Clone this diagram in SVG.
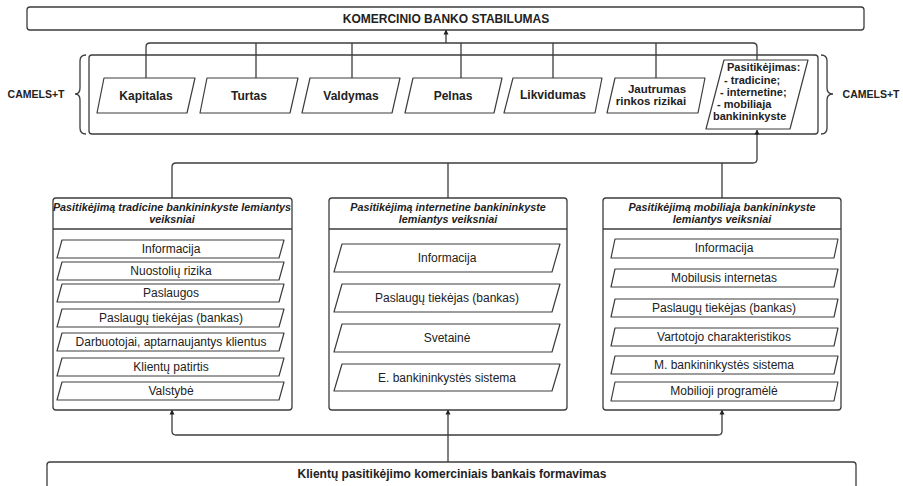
<svg xmlns="http://www.w3.org/2000/svg" width="903" height="486" viewBox="0 0 903 486">
  <style>
    .box { fill: #ffffff; stroke: #3c3c3c; stroke-width: 1.3; }
    .para { fill: #ffffff; stroke: #3c3c3c; stroke-width: 1.2; stroke-linejoin: round; }
    .line { fill: none; stroke: #3c3c3c; stroke-width: 1.3; }
    .bold { font-family: "Liberation Sans", Arial, sans-serif; font-weight: bold; fill: #222; }
    .title { font-family: "Liberation Sans", Arial, sans-serif; font-weight: bold; font-style: italic; font-size: 10.8px; fill: #222; }
    .item { font-family: "Liberation Sans", Arial, sans-serif; font-size: 12px; fill: #222; }
    text { text-anchor: middle; }
  </style>
  <defs>
    <marker id="arrow" viewBox="0 0 10 10" refX="9" refY="5" markerWidth="5" markerHeight="6" orient="auto" markerUnits="userSpaceOnUse">
      <path d="M0,0 L10,5 L0,10 Z" fill="#222"/>
    </marker>
  </defs>

  <rect width="903" height="486" fill="#ffffff"/>

  <!-- top result -->
  <g id="stabilumas">
    <rect class="box" x="27" y="7" width="837" height="23" rx="3"/>
    <text class="bold" x="446" y="22.5" font-size="12">KOMERCINIO BANKO STABILUMAS</text>
  </g>

  <!-- CAMELS+T group with braces -->
  <g id="camels">
    <rect class="box" x="89" y="55" width="729" height="79" rx="3"/>
    <path class="line" d="M86,55 Q80,55 80,61 V88 Q80,94 75,94 Q80,94 80,100 V128 Q80,134 86,134"/>
    <path class="line" d="M821,55 Q827,55 827,61 V88 Q827,94 833,94 Q827,94 827,100 V128 Q827,134 821,134"/>
    <text class="bold" x="36" y="98" font-size="10.5">CAMELS+T</text>
    <text class="bold" x="871" y="98" font-size="10.5">CAMELS+T</text>
  </g>

  <!-- connectors -->
  <g id="connectors">
    <path class="line" d="M146,78 V47 Q146,43 150,43 H753 Q757,43 757,47 V60"/>
    <path class="line" d="M256,43 V78 M352,43 V78 M461,43 V78 M553,43 V78 M656,43 V78"/>
    <path class="line" d="M446,43 V30" marker-end="url(#arrow)"/>
    <path class="line" d="M172,198 V167 Q172,163 176,163 H753 Q757,163 757,159 V130" marker-end="url(#arrow)"/>
    <path class="line" d="M448,163 V198 M722,163 V198"/>
    <path class="line" d="M176,435 H718 Q722,435 722,431 V410" marker-end="url(#arrow)"/>
    <path class="line" d="M176,435 Q172,435 172,431 V410" marker-end="url(#arrow)"/>
    <path class="line" d="M448,462 V410" marker-end="url(#arrow)"/>
  </g>

  <!-- CAMELS+T components -->
  <g id="kapitalas">
    <path class="para" d="M104,78 L195,78 L187,113 L97,113 Z"/>
    <text class="bold" x="146" y="100" font-size="12">Kapitalas</text>
  </g>
  <g id="turtas">
    <path class="para" d="M207,78 L298,78 L290,113 L200,113 Z"/>
    <text class="bold" x="249" y="100" font-size="12">Turtas</text>
  </g>
  <g id="valdymas">
    <path class="para" d="M310,78 L400,78 L392,113 L302,113 Z"/>
    <text class="bold" x="351" y="100" font-size="12">Valdymas</text>
  </g>
  <g id="pelnas">
    <path class="para" d="M413,78 L502,78 L494,113 L405,113 Z"/>
    <text class="bold" x="453" y="100" font-size="12">Pelnas</text>
  </g>
  <g id="likvidumas">
    <path class="para" d="M513,78 L602,78 L595,113 L504,113 Z"/>
    <text class="bold" x="553" y="99" font-size="12">Likvidumas</text>
  </g>
  <g id="jautrumas">
    <path class="para" d="M615,78 L705,78 L698,113 L607,113 Z"/>
    <text class="bold" x="657" y="93" font-size="11.5">Jautrumas</text>
    <text class="bold" x="651" y="105" font-size="11.5">rinkos rizikai</text>
  </g>
  <g id="pasitikejimas">
    <path class="para" d="M724,60 L808,60 L790,129 L706,129 Z"/>
    <g class="bold" font-size="11" style="text-anchor:start">
      <text x="727" y="71" style="text-anchor:start">Pasitikėjimas:</text>
      <text x="724" y="84" style="text-anchor:start">- tradicine;</text>
      <text x="720" y="96" style="text-anchor:start">- internetine;</text>
      <text x="717" y="108" style="text-anchor:start">- mobiliaja</text>
      <text x="713" y="120" style="text-anchor:start">bankininkyste</text>
    </g>
  </g>

  <!-- traditional banking factors -->
  <g id="tradicine">
    <rect class="box" x="53" y="198" width="239" height="212" rx="3"/>
    <path class="line" d="M53,229 H292"/>
    <text class="title" x="172" y="211">Pasitikėjimą tradicine bankininkyste lemiantys</text>
    <text class="title" x="172" y="223">veiksniai</text>
    <path class="para" d="M62,240 L284,240 L279,258 L57,258 Z"/>
    <text class="item" x="171" y="253">Informacija</text>
    <path class="para" d="M62,262 L284,262 L279,280 L57,280 Z"/>
    <text class="item" x="171" y="275">Nuostolių rizika</text>
    <path class="para" d="M62,284 L284,284 L279,302 L57,302 Z"/>
    <text class="item" x="171" y="297">Paslaugos</text>
    <path class="para" d="M62,309 L284,309 L279,327 L57,327 Z"/>
    <text class="item" x="171" y="322">Paslaugų tiekėjas (bankas)</text>
    <path class="para" d="M62,333 L284,333 L279,351 L57,351 Z"/>
    <text class="item" x="171" y="346">Darbuotojai, aptarnaujantys klientus</text>
    <path class="para" d="M62,358 L284,358 L279,376 L57,376 Z"/>
    <text class="item" x="171" y="371">Klientų patirtis</text>
    <path class="para" d="M62,382 L284,382 L279,400 L57,400 Z"/>
    <text class="item" x="171" y="395">Valstybė</text>
  </g>

  <!-- internet banking factors -->
  <g id="internetine">
    <rect class="box" x="329" y="198" width="238" height="212" rx="3"/>
    <path class="line" d="M329,229 H567"/>
    <text class="title" x="448" y="211">Pasitikėjimą internetine bankininkyste</text>
    <text class="title" x="448" y="223">lemiantys veiksniai</text>
    <path class="para" d="M342,244 L560,244 L552,272 L334,272 Z"/>
    <text class="item" x="447" y="262">Informacija</text>
    <path class="para" d="M342,284 L560,284 L552,312 L334,312 Z"/>
    <text class="item" x="447" y="302">Paslaugų tiekėjas (bankas)</text>
    <path class="para" d="M342,324 L560,324 L552,352 L334,352 Z"/>
    <text class="item" x="447" y="342">Svetainė</text>
    <path class="para" d="M342,364 L560,364 L552,391 L334,391 Z"/>
    <text class="item" x="447" y="382">E. bankininkystės sistema</text>
  </g>

  <!-- mobile banking factors -->
  <g id="mobiliaja">
    <rect class="box" x="603" y="198" width="238" height="212" rx="3"/>
    <path class="line" d="M603,229 H841"/>
    <text class="title" x="722" y="211">Pasitikėjimą mobiliaja bankininkyste</text>
    <text class="title" x="722" y="223">lemiantys veiksniai</text>
    <path class="para" d="M615,239 L838,239 L834,258 L611,258 Z"/>
    <text class="item" x="724" y="252">Informacija</text>
    <path class="para" d="M615,269 L838,269 L834,287 L611,287 Z"/>
    <text class="item" x="724" y="282">Mobilusis internetas</text>
    <path class="para" d="M615,299 L838,299 L834,317 L611,317 Z"/>
    <text class="item" x="724" y="312">Paslaugų tiekėjas (bankas)</text>
    <path class="para" d="M615,328 L838,328 L834,346 L611,346 Z"/>
    <text class="item" x="724" y="341">Vartotojo charakteristikos</text>
    <path class="para" d="M615,356 L838,356 L834,374 L611,374 Z"/>
    <text class="item" x="724" y="369">M. bankininkystės sistema</text>
    <path class="para" d="M615,382 L838,382 L834,401 L611,401 Z"/>
    <text class="item" x="724" y="395">Mobilioji programėlė</text>
  </g>

  <!-- source: client trust formation -->
  <g id="formavimas">
    <rect class="box" x="47" y="462" width="809" height="40" rx="3"/>
    <text class="bold" x="452" y="478" font-size="12">Klientų pasitikėjimo komerciniais bankais formavimas</text>
  </g>
</svg>
